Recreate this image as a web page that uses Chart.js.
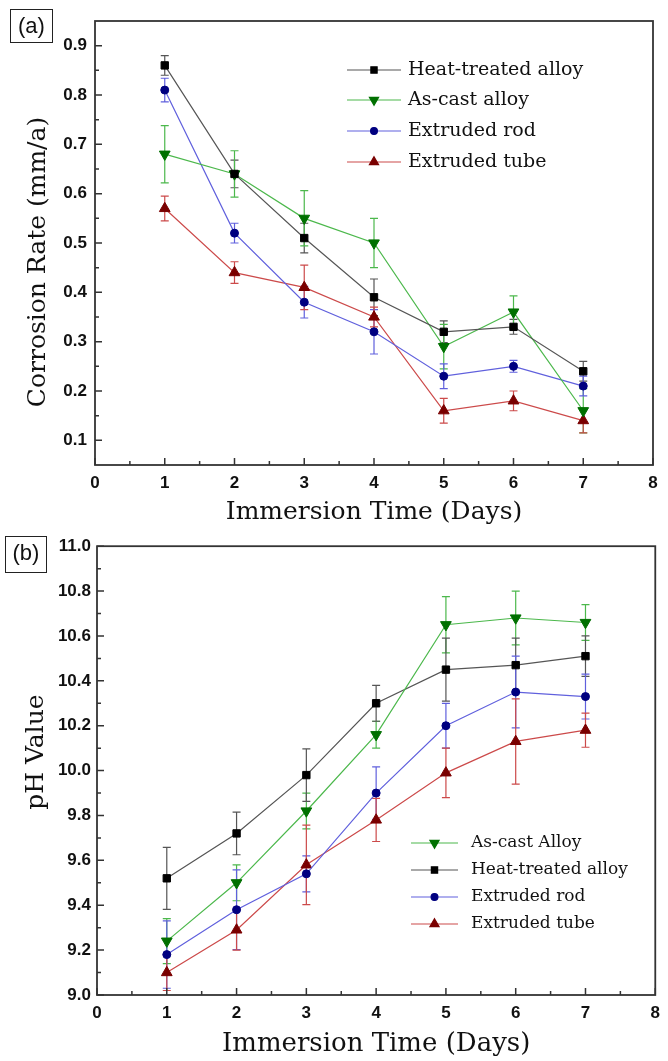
<!DOCTYPE html>
<html>
<head>
<meta charset="utf-8">
<script src="https://cdn.jsdelivr.net/npm/chart.js@4.4.1/dist/chart.umd.min.js"></script>
<style>
  body { margin: 0; background: #fff; }
  #wrap { position: relative; width: 668px; height: 1061px; }
  canvas { position: absolute; left: 0; }
  #chartA { top: 0; }
  #chartB { top: 530px; }
  .tag { position: absolute; border: 1.5px solid #222; font: 22px "Liberation Sans", Arial, sans-serif; line-height: 32px; text-align: center; color: #111; }
</style>
</head>
<body>
<div id="wrap">
  <canvas id="chartA" width="668" height="530"></canvas>
  <canvas id="chartB" width="668" height="531"></canvas>
  <div class="tag" style="left:10px;top:9px;width:41px;height:32px">(a)</div>
  <div class="tag" style="left:5px;top:536px;width:40px;height:35px">(b)</div>
</div>
<script>
// immersion days
var days = [1, 2, 3, 4, 5, 6, 7];
var xTicks = [0, 1, 2, 3, 4, 5, 6, 7, 8];

// (a) corrosion rate, mm/a
var rateHeat = [0.86, 0.64, 0.51, 0.39, 0.32, 0.33, 0.24];
var rateHeatErr = [0.02, 0.028, 0.03, 0.037, 0.022, 0.015, 0.02];
var rateCast = [0.68, 0.64, 0.55, 0.50, 0.29, 0.36, 0.16];
var rateCastErr = [0.058, 0.047, 0.056, 0.05, 0.045, 0.033, 0.045];
var rateRod = [0.81, 0.52, 0.38, 0.32, 0.23, 0.25, 0.21];
var rateRodErr = [0.024, 0.02, 0.032, 0.045, 0.025, 0.012, 0.02];
var rateTube = [0.57, 0.44, 0.41, 0.35, 0.16, 0.18, 0.14];
var rateTubeErr = [0.025, 0.022, 0.045, 0.02, 0.025, 0.02, 0.025];
var rateTicks = [0.1, 0.2, 0.3, 0.4, 0.5, 0.6, 0.7, 0.8, 0.9];

// (b) pH value
var phCast = [9.24, 9.50, 9.82, 10.16, 10.65, 10.68, 10.66];
var phCastErr = [0.1, 0.08, 0.08, 0.06, 0.125, 0.12, 0.08];
var phHeat = [9.52, 9.72, 9.98, 10.30, 10.45, 10.47, 10.51];
var phHeatErr = [0.138, 0.095, 0.117, 0.08, 0.14, 0.12, 0.09];
var phRod = [9.18, 9.38, 9.54, 9.90, 10.20, 10.35, 10.33];
var phRodErr = [0.15, 0.178, 0.08, 0.117, 0.1, 0.16, 0.1];
var phTube = [9.10, 9.29, 9.58, 9.78, 9.99, 10.13, 10.18];
var phTubeErr = [0.08, 0.09, 0.177, 0.096, 0.11, 0.19, 0.076];
var phTicks = [9.0, 9.2, 9.4, 9.6, 9.8, 10.0, 10.2, 10.4, 10.6, 10.8, 11.0];

var styles = {
  heat: { line: '#555555', mark: '#000000', shape: 'rect', r: 5.2, rot: 0 },
  cast: { line: '#4cb84c', mark: '#007000', shape: 'triangle', r: 6.2, rot: 180 },
  rod:  { line: '#6060dd', mark: '#000080', shape: 'circle', r: 4, rot: 0 },
  tube: { line: '#cc4a4a', mark: '#7a0000', shape: 'triangle', r: 6.2, rot: 0 }
};

function series(label, values, errors, st) {
  return {
    label: label,
    data: days.map(function (d, i) { return { x: d, y: values[i] }; }),
    errors: errors,
    borderColor: st.line,
    borderWidth: 1.2,
    pointStyle: st.shape,
    pointRotation: st.rot,
    pointRadius: st.r,
    pointBackgroundColor: st.mark,
    pointBorderColor: st.mark,
    pointBorderWidth: 1,
    tension: 0,
    fill: false
  };
}

// frame, inward ticks, error bars, titles and legend
var decor = {
  id: 'decor',
  beforeDatasetsDraw: function (chart) {
    var ctx = chart.ctx, xs = chart.scales.x, ys = chart.scales.y;
    chart.data.datasets.forEach(function (ds) {
      ctx.save();
      ctx.strokeStyle = ds.borderColor;
      ctx.lineWidth = 1.2;
      ds.data.forEach(function (p, i) {
        var e = ds.errors[i];
        var px = xs.getPixelForValue(p.x);
        var top = ys.getPixelForValue(p.y + e), bot = ys.getPixelForValue(p.y - e);
        ctx.beginPath();
        ctx.moveTo(px, top); ctx.lineTo(px, bot);
        ctx.moveTo(px - 4, top); ctx.lineTo(px + 4, top);
        ctx.moveTo(px - 4, bot); ctx.lineTo(px + 4, bot);
        ctx.stroke();
      });
      ctx.restore();
    });
  },
  afterDraw: function (chart, args, o) {
    var ctx = chart.ctx, a = chart.chartArea, xs = chart.scales.x, ys = chart.scales.y;
    ctx.save();
    ctx.strokeStyle = '#333';
    ctx.lineWidth = 1.8;
    ctx.strokeRect(a.left, a.top, a.right - a.left, a.bottom - a.top);

    ctx.lineWidth = 1.5;
    ctx.beginPath();
    for (var i = 0; i < xTicks.length; i++) {
      var px = xs.getPixelForValue(xTicks[i]);
      ctx.moveTo(px, a.bottom); ctx.lineTo(px, a.bottom - 7);
      if (i < xTicks.length - 1) {
        var mx = xs.getPixelForValue((xTicks[i] + xTicks[i + 1]) / 2);
        ctx.moveTo(mx, a.bottom); ctx.lineTo(mx, a.bottom - 4);
      }
    }
    var yt = o.yTicks;
    for (var j = 0; j < yt.length; j++) {
      var py = ys.getPixelForValue(yt[j]);
      ctx.moveTo(a.left, py); ctx.lineTo(a.left + 7, py);
      var half = (yt[1] - yt[0]) / 2;
      var my = ys.getPixelForValue(yt[j] + half);
      if (my > a.top + 1) { ctx.moveTo(a.left, my); ctx.lineTo(a.left + 4, my); }
      if (j === 0) {
        var lo = ys.getPixelForValue(yt[0] - half);
        if (lo < a.bottom - 1) { ctx.moveTo(a.left, lo); ctx.lineTo(a.left + 4, lo); }
      }
    }
    ctx.stroke();

    // axis titles
    ctx.fillStyle = '#111';
    ctx.textAlign = 'center';
    ctx.textBaseline = 'middle';
    ctx.font = o.xTitleSize + 'px "DejaVu Serif", serif';
    ctx.fillText('Immersion Time (Days)', (a.left + a.right) / 2, o.xTitleY);
    ctx.save();
    ctx.translate(o.yTitleX, o.yTitleY);
    ctx.rotate(-Math.PI / 2);
    ctx.font = o.yTitleSize + 'px "DejaVu Serif", serif';
    ctx.fillText(o.yTitle, 0, 0);
    ctx.restore();

    // legend
    var lg = o.legend;
    ctx.font = lg.size + 'px "DejaVu Serif", serif';
    ctx.textAlign = 'left';
    chart.data.datasets.forEach(function (ds, k) {
      var y = lg.rows[k];
      ctx.strokeStyle = ds.borderColor;
      ctx.lineWidth = 1.2;
      ctx.beginPath();
      ctx.moveTo(lg.x0, y); ctx.lineTo(lg.x1, y);
      ctx.stroke();
      ctx.fillStyle = ds.pointBackgroundColor;
      ctx.strokeStyle = ds.pointBorderColor;
      Chart.helpers.drawPoint(ctx, { pointStyle: ds.pointStyle, radius: ds.pointRadius * 0.85, rotation: ds.pointRotation, borderWidth: 1 }, (lg.x0 + lg.x1) / 2, y);
      ctx.fillStyle = '#111';
      ctx.fillText(ds.label, lg.tx, y);
    });
    ctx.restore();
  }
};

function makeChart(id, datasets, cfg) {
  var tickFont = { family: '"Liberation Sans", Arial, sans-serif', size: 17, weight: 'bold' };
  return new Chart(document.getElementById(id), {
    type: 'line',
    data: { datasets: datasets },
    plugins: [decor],
    options: {
      responsive: false,
      animation: false,
      layout: { padding: { top: cfg.padTop, right: cfg.padRight, left: 0, bottom: 0 } },
      plugins: {
        legend: { display: false },
        tooltip: { enabled: false },
        decor: cfg.decor
      },
      scales: {
        x: {
          type: 'linear',
          min: 0, max: 8,
          afterBuildTicks: function (s) { s.ticks = xTicks.map(function (v) { return { value: v }; }); },
          afterFit: function (s) { s.height = cfg.xHeight; },
          grid: { display: false, drawTicks: false },
          border: { display: false },
          ticks: { color: '#111', font: tickFont, padding: 8, maxRotation: 0, autoSkip: false }
        },
        y: {
          min: cfg.yMin, max: cfg.yMax,
          afterBuildTicks: function (s) { s.ticks = cfg.decor.yTicks.map(function (v) { return { value: v }; }); },
          afterFit: function (s) { s.width = cfg.yWidth; },
          grid: { display: false, drawTicks: false },
          border: { display: false },
          ticks: {
            color: '#111', font: tickFont, padding: cfg.yPad, autoSkip: false,
            callback: function (v) { return Number(v).toFixed(1); }
          }
        }
      }
    }
  });
}

makeChart('chartA', [
  series('Heat-treated alloy', rateHeat, rateHeatErr, styles.heat),
  series('As-cast alloy', rateCast, rateCastErr, styles.cast),
  series('Extruded rod', rateRod, rateRodErr, styles.rod),
  series('Extruded tube', rateTube, rateTubeErr, styles.tube)
], {
  padTop: 21, padRight: 15, xHeight: 65, yWidth: 95, yPad: 8,
  yMin: 0.05, yMax: 0.95,
  decor: {
    yTicks: rateTicks,
    yTitle: 'Corrosion Rate (mm/a)', yTitleX: 38, yTitleY: 262, yTitleSize: 25,
    xTitleY: 512, xTitleSize: 25,
    legend: { x0: 347, x1: 401, tx: 408, size: 19, rows: [70, 100, 131, 162] }
  }
});

makeChart('chartB', [
  series('As-cast Alloy', phCast, phCastErr, styles.cast),
  series('Heat-treated alloy', phHeat, phHeatErr, styles.heat),
  series('Extruded rod', phRod, phRodErr, styles.rod),
  series('Extruded tube', phTube, phTubeErr, styles.tube)
], {
  padTop: 15, padRight: 6, xHeight: 66, yWidth: 97, yPad: 6,
  yMin: 9.0, yMax: 11.0,
  decor: {
    yTicks: phTicks,
    yTitle: 'pH Value', yTitleX: 36, yTitleY: 222, yTitleSize: 25,
    xTitleY: 514, xTitleSize: 26,
    legend: { x0: 411, x1: 458, tx: 471, size: 17, rows: [313, 340, 367, 394] }
  }
});
</script>
</body>
</html>
